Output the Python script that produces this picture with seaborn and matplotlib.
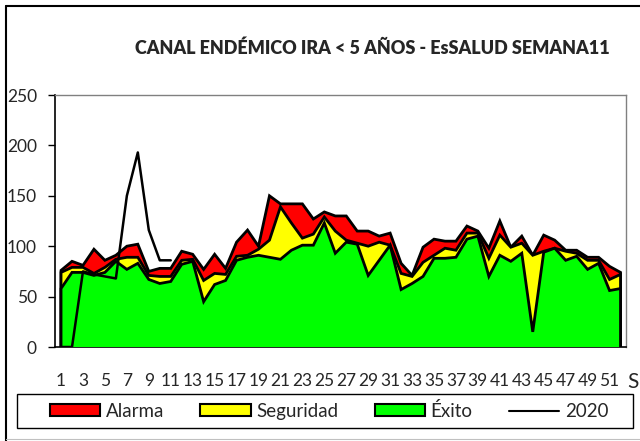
import numpy as np
import pandas as pd
import matplotlib
matplotlib.use("Agg")
import matplotlib.pyplot as plt
import seaborn as sns
from matplotlib.patches import Patch, Rectangle
from matplotlib.lines import Line2D

weeks = list(range(1, 53))
alarma = [76, 85, 81, 97, 86, 91, 100, 102, 75, 78, 78, 95, 92, 77, 92, 78, 104, 116, 100, 150,
          142, 142, 142, 127, 134, 130, 130, 115, 115, 110, 113, 83, 71, 99, 107, 105, 105, 120, 115, 98,
          125, 99, 110, 91, 111, 106, 96, 96, 89, 89, 80, 74]
seguridad = [74, 79, 79, 73, 79, 87, 89, 89, 71, 70, 70, 86, 87, 66, 73, 72, 90, 91, 97, 106,
             139, 123, 108, 112, 129, 115, 106, 103, 100, 104, 101, 73, 70, 84, 91, 98, 96, 113, 113, 88,
             111, 99, 103, 91, 95, 98, 95, 93, 86, 86, 67, 72]
exito = [58, 74, 74, 71, 74, 85, 77, 83, 67, 63, 65, 82, 85, 45, 62, 66, 86, 89, 91, 89,
         87, 96, 101, 101, 123, 93, 104, 102, 71, 86, 101, 57, 63, 70, 88, 88, 89, 107, 110, 70,
         91, 85, 93, 15, 94, 98, 86, 90, 77, 83, 56, 58]
weeks_2020 = list(range(1, 12))
casos_2020 = [0, 0, 75, 72, 70, 68, 150, 193, 116, 86, 86]

y_ticks = [0, 50, 100, 150, 200, 250]
x_tick_labels = [str(w) for w in range(1, 52, 2)]

title = "CANAL ENDÉMICO IRA < 5 AÑOS - EsSALUD SEMANA11"

sns.set_theme(style="white")
plt.rcParams['font.family'] = ['Lato', 'DejaVu Sans']

df = pd.DataFrame({"semana": weeks, "Alarma": alarma, "Seguridad": seguridad, "Éxito": exito})
df20 = pd.DataFrame({"semana": weeks_2020, "2020": casos_2020})

fig = plt.figure(figsize=(6.4, 4.41), dpi=100)
ax = fig.add_axes([55/640, 1 - 347/441, (626-55)/640, (347-95)/441])

colors = {"Alarma": "#FF0000", "Seguridad": "#FFFF00", "Éxito": "#00FF00"}
for i, name in enumerate(["Alarma", "Seguridad", "Éxito"]):
    ax.fill_between(df["semana"], 0, df[name], facecolor=colors[name], edgecolor="none", zorder=2 + i)
    xs = np.concatenate([[df["semana"].iloc[0]], df["semana"], [df["semana"].iloc[-1]]])
    ys = np.concatenate([[0], df[name], [0]])
    ax.plot(xs, ys, color="black", lw=2.0, zorder=2 + i, solid_joinstyle="miter")

sns.lineplot(data=df20, x="semana", y="2020", color="black", lw=1.8, ax=ax, zorder=6)

ax.set_xlim(0.45, 52.5)
ax.set_ylim(0, 250)
ax.set_yticks(y_ticks)
ax.set_xticks(range(1, 52, 2))
ax.set_xticklabels(x_tick_labels)
ax.set_xticks(np.arange(0.5, 53, 1), minor=True)
ax.tick_params(axis="x", which="major", length=0, pad=19, labelsize=12.5)
ax.tick_params(axis="x", which="minor", length=5, width=1, color="black", direction="out")
ax.tick_params(axis="y", length=5, width=1, color="black", direction="out", labelsize=12.5, pad=8,
               left=True)
ax.set_xlabel("")
ax.set_ylabel("")
for s in ["left", "bottom"]:
    ax.spines[s].set_color("black")
    ax.spines[s].set_linewidth(1.2)
for s in ["top", "right"]:
    ax.spines[s].set_color("#808080")
    ax.spines[s].set_linewidth(1.0)
ax.grid(False)

fig.text(372/640, 1 - 48/441, title, ha="center", va="center", fontsize=13, fontweight="heavy")
fig.text(627/640, 1 - 382/441, "S", ha="left", va="center", fontsize=15)

handles = [Patch(facecolor="#FF0000", edgecolor="black", lw=1.5, label="Alarma"),
           Patch(facecolor="#FFFF00", edgecolor="black", lw=1.5, label="Seguridad"),
           Patch(facecolor="#00FF00", edgecolor="black", lw=1.5, label="Éxito"),
           Line2D([0], [0], color="black", lw=1.5, label="2020")]
leg = fig.legend(handles=handles, loc="center", bbox_to_anchor=(329/640, 1 - 411/441), ncol=4,
                 fontsize=13.5, handlelength=2.7, handleheight=0.6, handletextpad=0.3,
                 columnspacing=1.92, frameon=False, borderpad=0.35, borderaxespad=0)
fig.add_artist(Rectangle((17/640, 1 - 428/441), (633 - 17)/640, 34/441, transform=fig.transFigure,
                         facecolor="none", edgecolor="black", lw=1.0))

fig.add_artist(Line2D([6/640, 1], [1 - 6/441, 1 - 6/441], color="black", lw=1.5, transform=fig.transFigure))
fig.add_artist(Line2D([6/640, 6/640], [0, 1 - 6/441], color="black", lw=1.5, transform=fig.transFigure))
fig.add_artist(Line2D([6/640, 1], [2/441, 2/441], color="#c0c0c0", lw=0.8, transform=fig.transFigure))

fig.savefig("out.png", dpi=100)
